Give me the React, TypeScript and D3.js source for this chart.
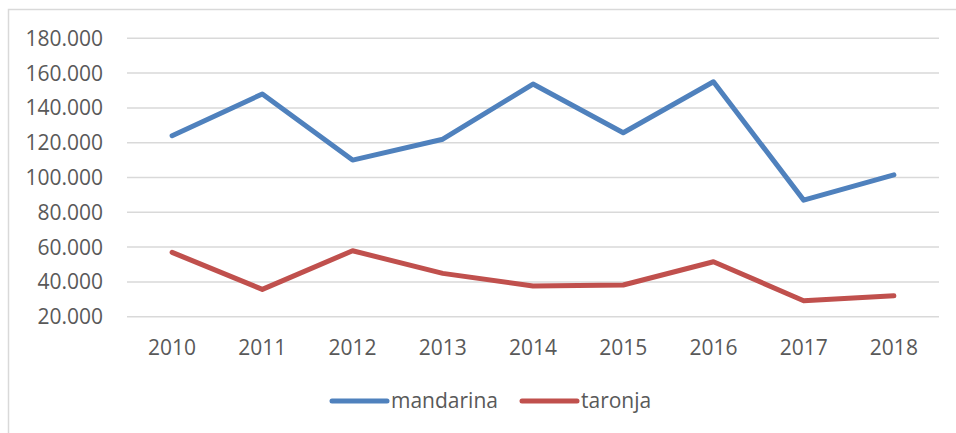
import React from "react";
import * as d3 from "d3";

const years = ["2010", "2011", "2012", "2013", "2014", "2015", "2016", "2017", "2018"];
const mandarina = [124000, 148000, 110000, 122000, 153700, 125700, 155000, 87000, 101500];
const taronja = [57000, 35700, 57900, 44900, 37600, 38200, 51600, 29200, 32000];
const yTicks = [20000, 40000, 60000, 80000, 100000, 120000, 140000, 160000, 180000];
const seriesNames = ["mandarina", "taronja"];

const W = 956;
const H = 433;
const FONT = "'Open Sans', 'Liberation Sans', sans-serif";
const TEXT = "#595959";
const GRID = "#D9D9D9";
const COLORS = ["#4F81BD", "#C0504D"];
const FS = 21;

const fmt = (v: number) => {
  const s = String(Math.round(v / 1000));
  return s + ".000";
};

export default function App() {
  const x = d3.scaleBand<string>().domain(years).range([127, 939]);
  const y = d3.scaleLinear().domain([20000, 180000]).range([316.7, 38.3]);
  const line = d3
    .line<number>()
    .x((_, i) => (x(years[i]) as number) + x.bandwidth() / 2)
    .y((d) => y(d));
  const series = [mandarina, taronja];
  const legendX = [332, 522];
  const legendLen = 55;

  return (
    <svg
      width={W}
      height={H}
      style={{ position: "absolute", left: 0, top: 0, background: "#fff" }}
      fontFamily={FONT}
    >
      <rect x={0} y={0} width={W} height={H} fill="#fff" />
      <path d={`M8.5,${H} V9.5 H${W}`} fill="none" stroke={GRID} strokeWidth={1.5} />
      {yTicks.map((t) => (
        <g key={t}>
          <line x1={127} x2={939} y1={y(t)} y2={y(t)} stroke={GRID} strokeWidth={1.5} />
          <text x={103} y={y(t) + 7.5} textAnchor="end" fontSize={FS} fill={TEXT}>
            {fmt(t)}
          </text>
        </g>
      ))}
      {years.map((yr) => (
        <text
          key={yr}
          x={(x(yr) as number) + x.bandwidth() / 2}
          y={355}
          textAnchor="middle"
          fontSize={FS}
          fill={TEXT}
        >
          {yr}
        </text>
      ))}
      {series.map((s, i) => (
        <path
          key={i}
          d={line(s) as string}
          fill="none"
          stroke={COLORS[i]}
          strokeWidth={5}
          strokeLinecap="round"
          strokeLinejoin="round"
        />
      ))}
      {seriesNames.map((n, i) => (
        <g key={n}>
          <line
            x1={legendX[i]}
            x2={legendX[i] + legendLen}
            y1={401}
            y2={401}
            stroke={COLORS[i]}
            strokeWidth={5}
            strokeLinecap="round"
          />
          <text x={legendX[i] + legendLen + 4} y={408} fontSize={FS} fill={TEXT}>
            {n}
          </text>
        </g>
      ))}
    </svg>
  );
}
